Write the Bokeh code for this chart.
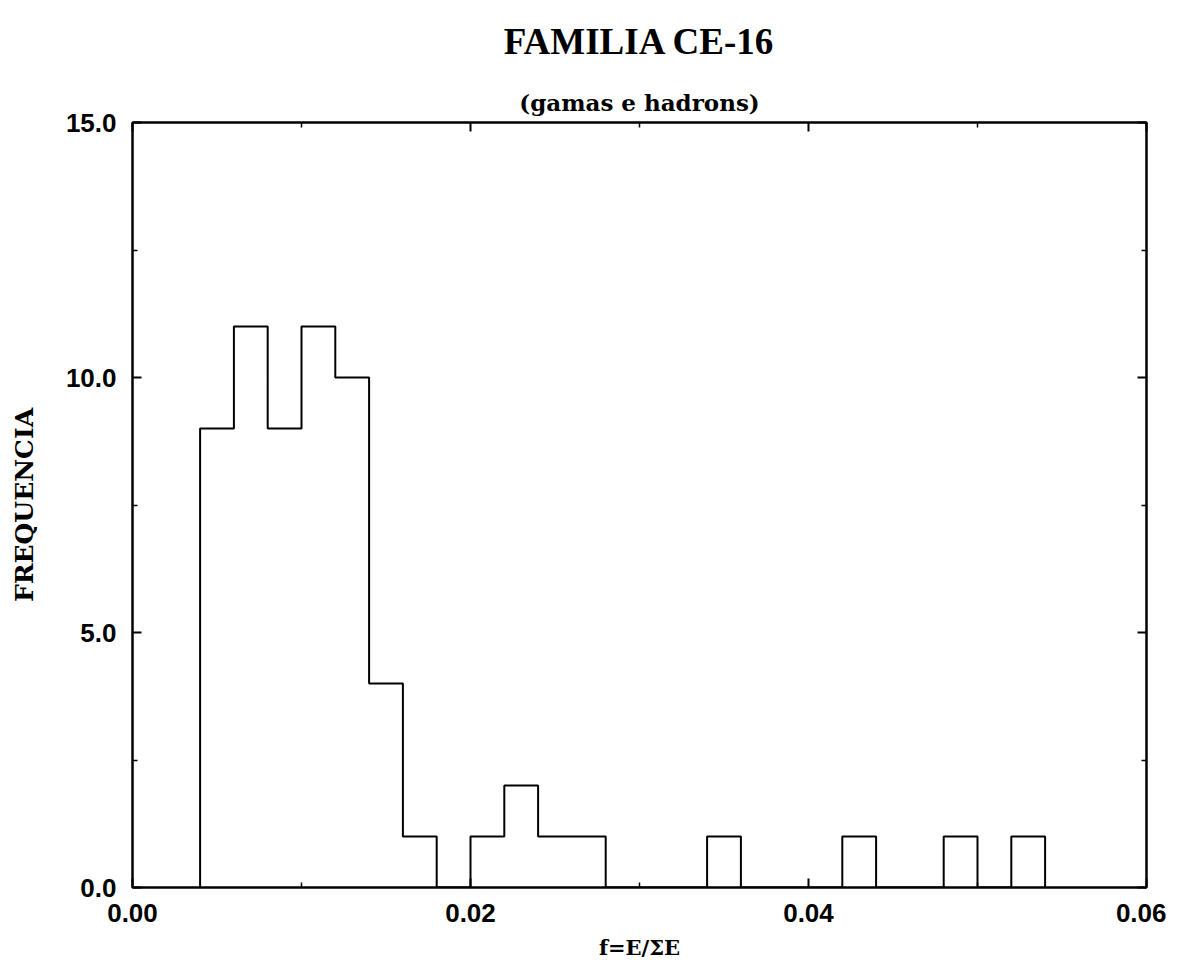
from bokeh.plotting import figure
from bokeh.models import LinearAxis, FixedTicker, Title, Range1d
from bokeh.embed import file_html
from bokeh.resources import INLINE

# histogram data: bin left edges (width 0.002) and counts
bin_width = 0.002
bin_left = [0.004, 0.006, 0.008, 0.010, 0.012, 0.014, 0.016, 0.018, 0.020, 0.022,
            0.024, 0.026, 0.028, 0.030, 0.032, 0.034, 0.036, 0.038, 0.040, 0.042,
            0.044, 0.046, 0.048, 0.050, 0.052]
counts = [9, 11, 9, 11, 10, 4, 1, 0, 1, 2,
          1, 1, 0, 0, 0, 1, 0, 0, 0, 1,
          0, 0, 1, 0, 1]
x_ticks = [0.0, 0.02, 0.04, 0.06]
x_minor = [0.01, 0.03, 0.05]
y_ticks = [0.0, 5.0, 10.0, 15.0]
y_minor = [2.5, 7.5, 12.5]
x_tick_labels = {0.0: "0.00", 0.02: "0.02", 0.04: "0.04", 0.06: "0.06"}
y_tick_labels = {0.0: "0.0", 5.0: "5.0", 10.0: "10.0", 15.0: "15.0"}

title_text = "FAMILIA CE-16"
subtitle_text = "(gamas e hadrons)"
x_label = "f=E/\u03a3E"
y_label = "FREQUENCIA"

SERIF = "DejaVu Serif"
SANS = "Liberation Sans"

p = figure(frame_width=1014, frame_height=765,
           x_range=Range1d(0, 0.06), y_range=Range1d(0, 15),
           output_backend="svg", toolbar_location=None,
           x_axis_location=None, y_axis_location=None,
           min_border_left=132, min_border_top=122,
           min_border_right=20, min_border_bottom=68,
           background_fill_color="white", border_fill_color="white")
p.grid.visible = False
p.outline_line_color = "black"
p.outline_line_width = 2

# step outline of histogram
edges = list(bin_left) + [bin_left[-1] + bin_width]
xs = [edges[0]] + edges
ys = [0] + list(counts) + [0]
p.step(x=xs, y=ys, mode="after", line_color="black", line_width=2)


def style(ax, ticks, minor, labels, show):
    ax.ticker = FixedTicker(ticks=ticks, minor_ticks=minor)
    ax.major_label_overrides = labels
    ax.axis_line_color = "black"
    ax.axis_line_width = 2
    ax.major_tick_in = 9
    ax.major_tick_out = 0
    ax.minor_tick_in = 5
    ax.minor_tick_out = 0
    ax.major_tick_line_width = 2
    ax.minor_tick_line_width = 1.5
    ax.major_tick_line_color = "black"
    ax.minor_tick_line_color = "black"
    ax.major_label_text_font = SANS
    ax.major_label_text_font_style = "bold"
    ax.major_label_text_color = "black"
    if show:
        ax.major_label_text_font_size = "26px"
        ax.major_label_standoff = 16
    else:
        ax.major_label_text_font_size = "10px"
        ax.major_label_standoff = 0


bottom = LinearAxis(axis_label=x_label)
style(bottom, x_ticks, x_minor, x_tick_labels, True)
bottom.axis_label_text_font = SERIF
bottom.axis_label_text_font_style = "bold"
bottom.axis_label_text_font_size = "21px"
bottom.axis_label_text_color = "black"
bottom.axis_label_standoff = 10
p.add_layout(bottom, "below")

left = LinearAxis(axis_label=y_label)
style(left, y_ticks, y_minor, y_tick_labels, True)
left.axis_label_text_font = SERIF
left.axis_label_text_font_style = "bold"
left.axis_label_text_font_size = "25px"
left.axis_label_text_color = "black"
left.axis_label_standoff = 24
p.add_layout(left, "left")

right = LinearAxis()
style(right, y_ticks, y_minor, {t: "" for t in y_ticks}, False)
p.add_layout(right, "right")

top = LinearAxis()
style(top, x_ticks, x_minor, {t: "" for t in x_ticks}, False)
p.add_layout(top, "above")

sub = Title(text=subtitle_text, align="center", text_font=SERIF,
            text_font_style="bold", text_font_size="23px", text_color="black",
            standoff=14, offset=36)
p.add_layout(sub, "above")
main = Title(text=title_text, align="center", text_font="Liberation Serif",
             text_font_style="bold", text_font_size="37px", text_color="black",
             standoff=36, offset=36)
p.add_layout(main, "above")

open("out.html", "w").write(file_html(p, INLINE))
